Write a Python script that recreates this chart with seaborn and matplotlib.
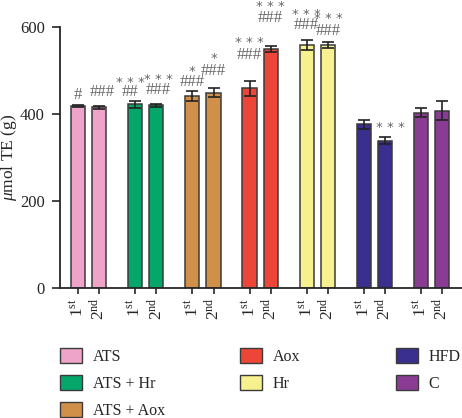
import matplotlib
matplotlib.use("Agg")
import matplotlib.pyplot as plt
import seaborn as sns
import pandas as pd
import numpy as np
from matplotlib.patches import Patch

groups = ["ATS", "ATS + Hr", "ATS + Aox", "Aox", "Hr", "HFD", "C"]
sessions = ["1st", "2nd"]
tick_labels = [r"1$^{\mathrm{st}}$", r"2$^{\mathrm{nd}}$"]
means_1st = [418, 422, 442, 459, 558, 376, 403]
means_2nd = [415, 420, 449, 549, 558, 339, 408]
err_1st = [3, 9, 12, 18, 11, 11, 11]
err_2nd = [4, 3, 10, 7, 7, 7, 21]
colors = ["#EEA3C9", "#05A66A", "#D1904A", "#EE4539", "#F7F08E", "#3A2F8F", "#8A3C95"]

# significance labels (upper, lower) per bar and their heights
ann_1st = [("", "#"), ("***", "##"), ("*", "###"), ("***", "###"), ("***", "###"), ("", ""), ("", "")]
ann_2nd = [("", "###"), ("***", "###"), ("*", "###"), ("***", "###"), ("***", "###"), ("***", ""), ("", "")]
ann_y_1st = [(None, 444), (478, 451), (503, 474), (570, 536), (634, 605), (None, None), (None, None)]
ann_y_2nd = [(None, 451), (485, 455), (533, 499), (653, 621), (625, 591), (375, None), (None, None)]
ann_dx_1st = [0, -5, 0, 0, 0, 0, 0]
ann_dx_2nd = [3, 2, 0, 0, 0, 5, 0]

df = pd.DataFrame({
    "group": groups * 2,
    "session": ["1st"] * 7 + ["2nd"] * 7,
    "value": means_1st + means_2nd,
})

sns.set_style("ticks")
plt.rcParams["font.family"] = ["Liberation Serif", "DejaVu Serif"]
plt.rcParams["mathtext.fontset"] = "custom"
plt.rcParams["mathtext.rm"] = "Liberation Serif"
plt.rcParams["mathtext.it"] = "Liberation Serif:italic"

fig = plt.figure(figsize=(4.62, 4.18), dpi=100)
ax = fig.add_axes([60 / 462, 1 - 288 / 418, 402 / 462, 261 / 418])

sns.barplot(data=df, x="group", y="value", hue="session", order=groups,
            hue_order=sessions, width=0.74, gap=0.33, errorbar=None,
            ax=ax, legend=False, edgecolor="#3a3a3a", linewidth=1.1)

patches = [p for p in ax.patches]
centers = []
for i, p in enumerate(patches[:14]):
    g = i % 7
    p.set_facecolor(colors[g])
    centers.append(p.get_x() + p.get_width() / 2)

c1 = centers[:7]
c2 = centers[7:]
ax.errorbar(c1, means_1st, yerr=err_1st, fmt="none", ecolor="#222222",
            elinewidth=1.2, capsize=4, capthick=1.2, zorder=5)
ax.errorbar(c2, means_2nd, yerr=err_2nd, fmt="none", ecolor="#222222",
            elinewidth=1.2, capsize=4, capthick=1.2, zorder=5)

hashkw = dict(ha="center", va="center", color="#666666", fontsize=12,
              annotation_clip=False)
starkw = dict(ha="center", va="baseline", color="#666666", fontsize=9.5,
              family="DejaVu Sans", annotation_clip=False)
for cs, anns, ys, dxs in [(c1, ann_1st, ann_y_1st, ann_dx_1st),
                          (c2, ann_2nd, ann_y_2nd, ann_dx_2nd)]:
    for x, (top, bot), (yt, yb), dx in zip(cs, anns, ys, dxs):
        if top and yt is not None:
            ax.annotate(" ".join(top), (x, yt - 14), xytext=(dx * 0.72, 0),
                        textcoords="offset points", **starkw)
        if bot and yb is not None:
            ax.annotate(bot, (x, yb), xytext=(dx * 0.72, 0),
                        textcoords="offset points", **hashkw)

ax.set_xlim(-0.5, 6.53)
ax.set_ylim(0, 600)
ax.set_yticks([0, 200, 400, 600])
ax.tick_params(axis="y", labelsize=12, length=6, width=1.2, pad=5)
all_centers = []
all_labels = []
for a, b in zip(c1, c2):
    all_centers += [a, b]
    all_labels += tick_labels
ax.set_xticks(all_centers)
ax.set_xticklabels(all_labels, rotation=90, fontsize=12.5)
ax.tick_params(axis="x", length=4, width=1.2, pad=3)
ax.set_xlabel("")
ax.set_ylabel(r"$\mathit{\mu}$mol TE (g)", fontsize=12.5)
ax.yaxis.set_label_coords(-0.102, 0.5)
sns.despine(ax=ax)
for s in ["left", "bottom"]:
    ax.spines[s].set_linewidth(1.3)

legend_cols = [(0, 3, 60), (3, 5, 240), (5, 7, 396)]
for start, end, xpx in legend_cols:
    handles = [Patch(facecolor=colors[i], edgecolor="#3a3a3a", linewidth=1.0, label=groups[i])
               for i in range(start, end)]
    fig.legend(handles=handles, loc="upper left",
               bbox_to_anchor=(xpx / 462, 1 - 348 / 418), frameon=False,
               fontsize=11.5, handlelength=1.4, handleheight=1.1,
               handletextpad=0.65, labelspacing=0.62, borderaxespad=0, borderpad=0)

fig.savefig("out.png", dpi=100)
